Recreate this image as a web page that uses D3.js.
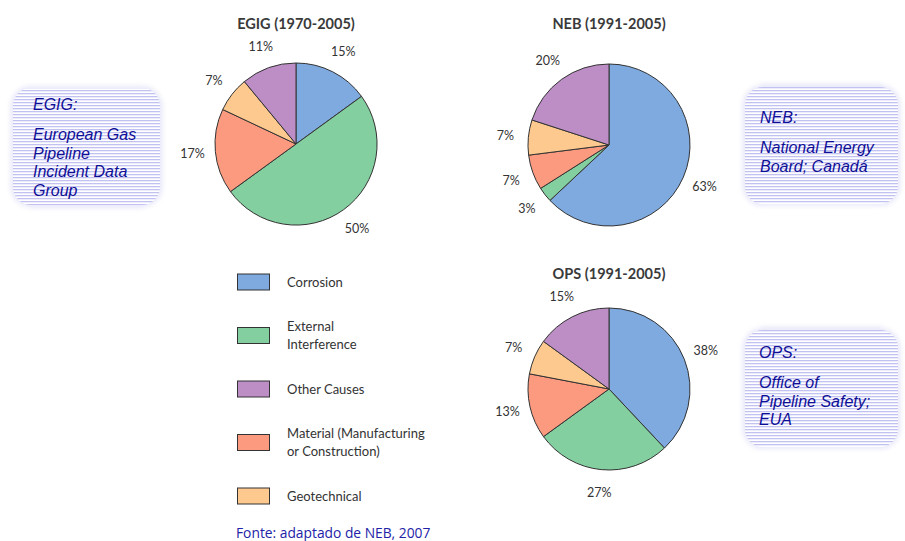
<!DOCTYPE html>
<meta charset="utf-8">
<script src="https://d3js.org/d3.v7.min.js"></script>
<style>
  body { margin: 0; background: #fff; }
</style>
<div id="chart"></div>
<script>

// data
var causeKeys = ["corrosion", "external", "material", "geotechnical", "other"];
var egigValues = [15, 50, 17, 7, 11];
var nebValues = [63, 3, 7, 7, 20];
var opsValues = [38, 27, 13, 7, 15];
var pieTitles = ["EGIG (1970-2005)", "NEB (1991-2005)", "OPS (1991-2005)"];

var legendKeys = ["corrosion", "external", "other", "material", "geotechnical"];
var legendLabels = [["Corrosion"], ["External", "Interference"], ["Other Causes"],
                    ["Material (Manufacturing", "or Construction)"], ["Geotechnical"]];

var noteTitles = ["EGIG:", "NEB:", "OPS:"];
var noteLines = [["European Gas", "Pipeline", "Incident Data", "Group"],
                 ["National Energy", "Board; Canadá"],
                 ["Office of", "Pipeline Safety;", "EUA"]];
var sourceText = "Fonte: adaptado de NEB, 2007";

var colors = {
  corrosion: "#7eaadf",
  external: "#83cf9f",
  material: "#fc9a80",
  geotechnical: "#fec98f",
  other: "#bd8ec6"
};

var width = 905, height = 541;

var svg = d3.select("#chart")
  .append("svg")
    .attr("width", width)
    .attr("height", height);

// striped background for the notes
var defs = svg.append("defs");
var pat = defs.append("pattern")
  .attr("id", "stripes")
  .attr("patternUnits", "userSpaceOnUse")
  .attr("width", 6).attr("height", 3);
pat.append("rect").attr("width", 6).attr("height", 3).attr("fill", "#ffffff");
pat.append("rect").attr("width", 6).attr("height", 1.3).attr("fill", "#c2c2f2");

defs.append("filter").attr("id", "soft")
  .append("feGaussianBlur").attr("stdDeviation", 2);

// pies
var pie = d3.pie().sort(null).value(function(d) { return d.value; });
var radius = 81;
var arc = d3.arc().innerRadius(0).outerRadius(radius);
var labelArc = d3.arc().innerRadius(104).outerRadius(104);

var pies = [
  {title: pieTitles[0], values: egigValues, cx: 296, cy: 144, ty: 29},
  {title: pieTitles[1], values: nebValues, cx: 609, cy: 145, ty: 29},
  {title: pieTitles[2], values: opsValues, cx: 609, cy: 389, ty: 279}
];

pies.forEach(function(p) {
  var g = svg.append("g").attr("transform", "translate(" + p.cx + "," + p.cy + ")");
  var data = causeKeys.map(function(k, i) { return {key: k, value: p.values[i]}; });
  var arcs = pie(data);

  g.selectAll("path")
    .data(arcs)
    .enter()
    .append("path")
      .attr("d", arc)
      .attr("fill", function(d) { return colors[d.data.key]; })
      .attr("stroke", "#333")
      .attr("stroke-width", 1);

  g.selectAll("text.pct")
    .data(arcs)
    .enter()
    .append("text")
      .attr("class", "pct")
      .attr("transform", function(d) { return "translate(" + labelArc.centroid(d) + ")"; })
      .attr("dy", "0.35em")
      .attr("text-anchor", "middle")
      .style("font-family", "Lato, 'DejaVu Sans', sans-serif")
      .style("font-size", "12.5px")
      .style("fill", "#333")
      .text(function(d) { return d.data.value + "%"; });

  svg.append("text")
    .attr("x", p.cx)
    .attr("y", p.ty)
    .attr("text-anchor", "middle")
    .style("font-family", "Lato, 'DejaVu Sans', sans-serif")
    .style("font-weight", "bold")
    .style("font-size", "14.5px")
    .style("fill", "#3a3a3a")
    .text(p.title);
});

// legend
var legendY = d3.scalePoint()
  .domain(legendKeys)
  .range([282, 496]);

var lg = svg.append("g");
legendKeys.forEach(function(k, i) {
  var cy = legendY(k);
  lg.append("rect")
    .attr("x", 237.5).attr("y", cy - 8)
    .attr("width", 32).attr("height", 16)
    .attr("fill", colors[k])
    .attr("stroke", "#333")
    .attr("stroke-width", 1);
  var lines = legendLabels[i];
  lines.forEach(function(t, j) {
    lg.append("text")
      .attr("x", 287)
      .attr("y", cy + (j - (lines.length - 1) / 2) * 17.5)
      .attr("dy", "0.35em")
      .style("font-family", "Lato, 'DejaVu Sans', sans-serif")
      .style("font-size", "13px")
      .style("fill", "#333")
      .text(t);
  });
});

// source
svg.append("text")
  .attr("x", 236)
  .attr("y", 538)
  .style("font-family", "'Open Sans', 'Noto Sans', sans-serif")
  .style("font-size", "13.8px")
  .style("fill", "#2222a8")
  .text(sourceText);

// note boxes
var notes = [
  {x: 8, y: 83, w: 157, h: 127, tx: 33, ty: 110},
  {x: 740, y: 82, w: 163, h: 127, tx: 760, ty: 123},
  {x: 740, y: 325, w: 163, h: 127, tx: 759, ty: 358}
];

notes.forEach(function(n, i) {
  svg.append("rect")
    .attr("x", n.x + 2).attr("y", n.y + 2)
    .attr("width", n.w - 4).attr("height", n.h - 4)
    .attr("rx", 22)
    .attr("fill", "url(#stripes)")
    .attr("opacity", 0.8)
    .attr("filter", "url(#soft)");
  svg.append("rect")
    .attr("x", n.x + 5).attr("y", n.y + 5)
    .attr("width", n.w - 10).attr("height", n.h - 10)
    .attr("rx", 18)
    .attr("fill", "url(#stripes)");

  var t = svg.append("g")
    .style("font-family", "'Liberation Sans', Arial, sans-serif")
    .style("font-style", "italic")
    .style("font-size", "16px")
    .style("fill", "#0f0f96");
  t.append("text").attr("x", n.tx).attr("y", n.ty).text(noteTitles[i]);
  noteLines[i].forEach(function(line, j) {
    t.append("text")
      .attr("x", n.tx)
      .attr("y", n.ty + 30 + j * 18.5)
      .text(line);
  });
});

</script>
